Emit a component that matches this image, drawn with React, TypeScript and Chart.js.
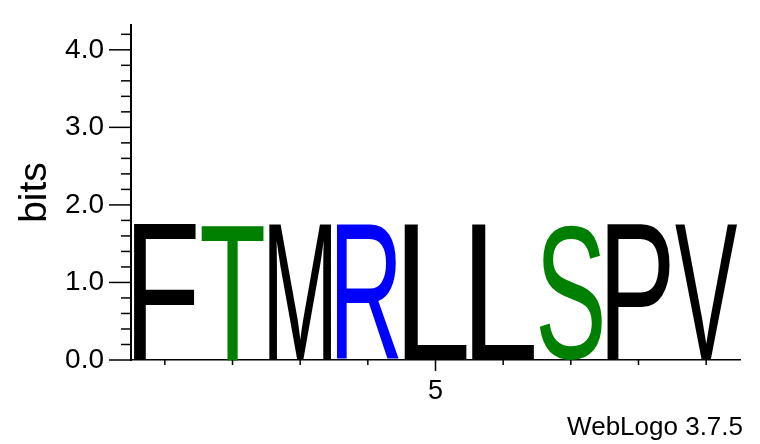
import { useEffect, useRef } from "react"
import { Chart, registerables } from "chart.js"

Chart.register(...registerables)

// sequence logo, one residue per position
const positions = ["1", "2", "3", "4", "5", "6", "7", "8", "9"]
const residues = ["F", "T", "M", "R", "L", "L", "S", "P", "V"]
const bits = [1.76, 1.76, 1.76, 1.76, 1.76, 1.76, 1.76, 1.76, 1.76]
const residueColors = ["#000000", "#008000", "#000000", "#0000ff", "#000000", "#000000", "#008000", "#000000", "#000000"]
const yTickLabels = ["0.0", "1.0", "2.0", "3.0", "4.0"]
const xTickLabels = ["", "", "", "", "5", "", "", "", ""]
const maxBits = 4.32

const FONT = '"Liberation Sans", Arial, Helvetica, sans-serif'

const isMajor = (v: number) => Math.abs(v - Math.round(v)) < 1e-6

// draws every residue stretched into its bar box
const logoLetters = {
  id: "logoLetters",
  afterDatasetsDraw(chart: Chart) {
    const ctx = chart.ctx
    const meta = chart.getDatasetMeta(0)
    meta.data.forEach((bar: any, i: number) => {
      const { x, y, base, width } = bar.getProps(["x", "y", "base", "width"], true)
      const ch = residues[i]
      ctx.save()
      ctx.font = `200px ${FONT}`
      ctx.textAlign = "left"
      ctx.textBaseline = "alphabetic"
      const m = ctx.measureText(ch)
      const gw = m.actualBoundingBoxLeft + m.actualBoundingBoxRight
      const gh = m.actualBoundingBoxAscent + m.actualBoundingBoxDescent
      ctx.translate(x - width / 2, y)
      ctx.scale(width / gw, (base - y) / gh)
      ctx.fillStyle = residueColors[i]
      ctx.fillText(ch, m.actualBoundingBoxLeft, m.actualBoundingBoxAscent)
      ctx.restore()
    })
  },
}

// weblogo style tick marks + version stamp
const axisMarks = {
  id: "axisMarks",
  afterDraw(chart: Chart) {
    const ctx = chart.ctx
    const { left, bottom } = chart.chartArea
    const yScale = chart.scales.y
    const xScale = chart.scales.x
    ctx.save()
    ctx.strokeStyle = "#000"
    ctx.lineWidth = 1.5
    yScale.ticks.forEach((t) => {
      const py = yScale.getPixelForValue(t.value)
      const len = isMajor(t.value) ? 22 : 10
      ctx.beginPath()
      ctx.moveTo(left - len, py)
      ctx.lineTo(left, py)
      ctx.stroke()
    })
    positions.forEach((_, i) => {
      const px = xScale.getPixelForValue(i)
      const len = xTickLabels[i] ? 11 : 5
      ctx.beginPath()
      ctx.moveTo(px, bottom)
      ctx.lineTo(px, bottom + len)
      ctx.stroke()
    })
    ctx.fillStyle = "#000"
    ctx.font = `26px ${FONT}`
    ctx.textAlign = "right"
    ctx.textBaseline = "alphabetic"
    ctx.fillText("WebLogo 3.7.5", 743, 435)
    ctx.restore()
  },
}

export default function App() {
  const chartRef = useRef<HTMLCanvasElement>(null)
  const chartInstance = useRef<Chart | null>(null)

  useEffect(() => {
    if (!chartRef.current) return
    if (chartInstance.current) chartInstance.current.destroy()

    chartInstance.current = new Chart(chartRef.current, {
      type: "bar",
      data: {
        labels: positions,
        datasets: [
          {
            data: bits,
            backgroundColor: "rgba(0,0,0,0)",
            borderWidth: 0,
            barPercentage: 0.92,
            categoryPercentage: 1,
          },
        ],
      },
      options: {
        animation: false,
        responsive: false,
        events: [],
        layout: { padding: { top: 25, right: 20, left: 0, bottom: 0 } },
        plugins: {
          legend: { display: false },
          tooltip: { enabled: false },
        },
        scales: {
          x: {
            grid: { drawOnChartArea: false, drawTicks: false },
            border: { color: "#000", width: 1.5 },
            ticks: {
              autoSkip: false,
              maxRotation: 0,
              padding: 15,
              color: "#000",
              font: { family: FONT, size: 27 },
              callback: (_v, i) => xTickLabels[i],
            },
            afterFit: (s: any) => {
              s.height = 84
              s.paddingLeft = 0
              s.paddingRight = 0
            },
          },
          y: {
            min: 0,
            max: maxBits,
            grid: { drawOnChartArea: false, drawTicks: false },
            border: { color: "#000", width: 2 },
            ticks: {
              stepSize: 0.2,
              includeBounds: false,
              autoSkip: false,
              padding: 27,
              color: "#000",
              font: { family: FONT, size: 28 },
              callback: (v) => {
                const n = Number(v)
                return isMajor(n) ? yTickLabels[Math.round(n)] ?? "" : ""
              },
            },
            title: {
              display: true,
              text: "bits",
              color: "#000",
              font: { family: FONT, size: 39 },
              padding: { top: 12, bottom: 0 },
            },
            afterFit: (s: any) => {
              s.width = 131
              s.paddingTop = 0
              s.paddingBottom = 0
            },
          },
        },
      },
      plugins: [logoLetters, axisMarks],
    })

    return () => {
      if (chartInstance.current) {
        chartInstance.current.destroy()
        chartInstance.current = null
      }
    }
  }, [])

  return (
    <canvas
      ref={chartRef}
      width={760}
      height={444}
      style={{ position: "absolute", left: 0, top: 0 }}
    />
  )
}
